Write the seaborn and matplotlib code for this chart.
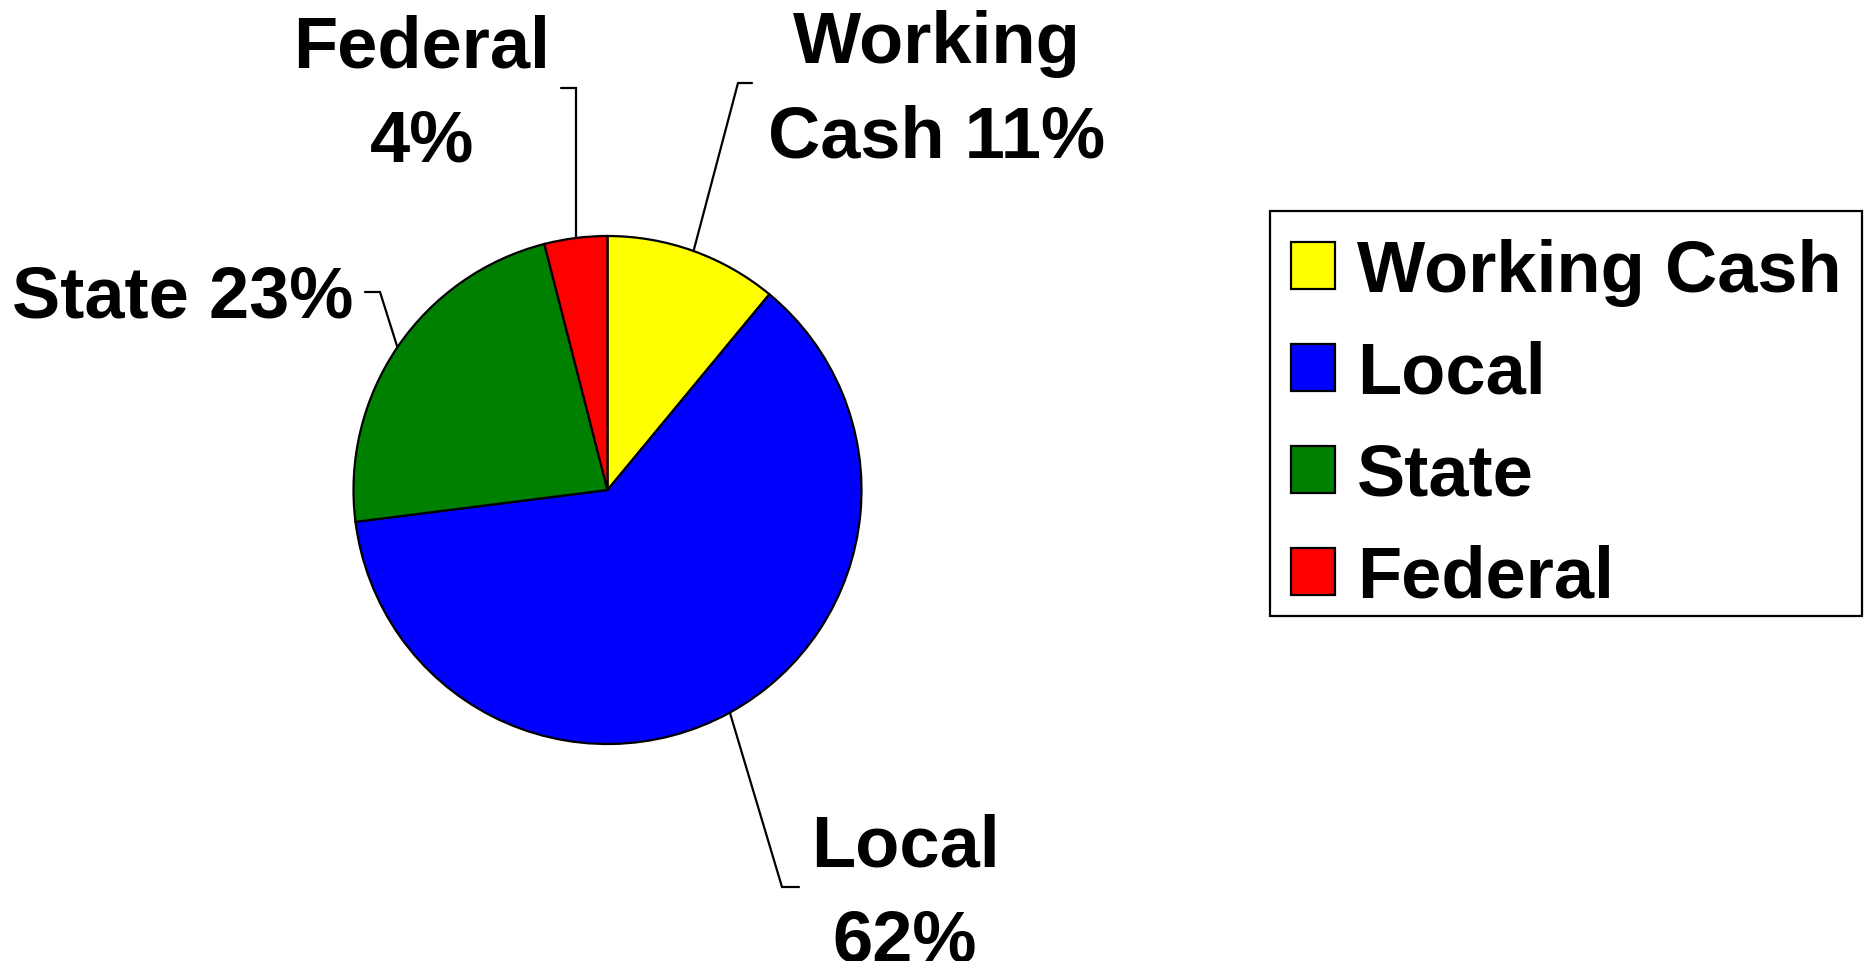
import numpy as np
import matplotlib
matplotlib.use("Agg")
import matplotlib.pyplot as plt
from matplotlib.patches import Rectangle
import seaborn as sns

# data
sources = ["Working Cash", "Local", "State", "Federal"]
shares = [11, 62, 23, 4]
colors = ["#FFFF00", "#0000FF", "#008000", "#FF0000"]
pie_labels = ["Working\nCash 11%", "Local\n62%", "State 23%", "Federal\n4%"]

sns.set_theme(style="white")
plt.rcParams["font.family"] = ["Liberation Sans", "DejaVu Sans"]
plt.rcParams["font.weight"] = "bold"
plt.rcParams["text.color"] = "black"

W, H = 1864, 962
FS = 52
LW = 1.6

def py(y):
    # pixel row (from top) -> data y
    return H - y

fig = plt.figure(figsize=(W / 100, H / 100), dpi=100)
ax = fig.add_axes([0, 0, 1, 1])

cx, cy, r = 607.5, py(491), 254
wedges, _ = ax.pie(shares, colors=colors, startangle=90, counterclock=False,
                   center=(cx, cy), radius=r, frame=True,
                   wedgeprops=dict(edgecolor="black", linewidth=LW))
ax.set_xlim(0, W)
ax.set_ylim(0, H)
ax.axis("off")

# leader elbows / ends and text placement (pixel coords from top-left)
elbows = [(738, 84), (782, 888), (380, 293), (576, 89)]
ends = [(752, 84), (799, 888), (365, 293), (561, 89)]
text_x = [937, 905, 12, 422]
text_ha = ["center", "center", "left", "center"]
baselines = [(63, 157), (867, 962), (318,), (68, 162)]

for w, lab, el, en, tx, ha, bl in zip(wedges, pie_labels, elbows, ends,
                                       text_x, text_ha, baselines):
    mid = np.deg2rad((w.theta1 + w.theta2) / 2)
    ax_, ay_ = cx + r * np.cos(mid), cy + r * np.sin(mid)
    ex = ax_ if abs(el[0] - ax_) < 6 else el[0]
    ax.plot([ax_, ex, en[0]], [ay_, py(el[1]), py(en[1])],
            color="black", lw=LW, solid_joinstyle="miter")
    for line, b in zip(lab.split("\n"), bl):
        ax.text(tx, py(b), line, ha=ha, va="baseline", fontsize=FS,
                fontweight="bold", color="black")

# legend entries without frame, box drawn separately
leg = ax.legend(wedges, sources, loc="upper left",
                bbox_to_anchor=(1291 / W, 1 - 239 / H),
                bbox_transform=fig.transFigure, fontsize=FS,
                frameon=False, borderpad=0, labelspacing=0.47,
                handlelength=0.61, handleheight=0.61, handletextpad=0.31,
                borderaxespad=0, labelcolor="black")
for t in leg.get_texts():
    t.set_fontweight("bold")
ax.add_patch(Rectangle((1270, py(617)), 592, 405, fill=False,
                       edgecolor="black", linewidth=LW, clip_on=False))

fig.savefig("out.png", dpi=100)
